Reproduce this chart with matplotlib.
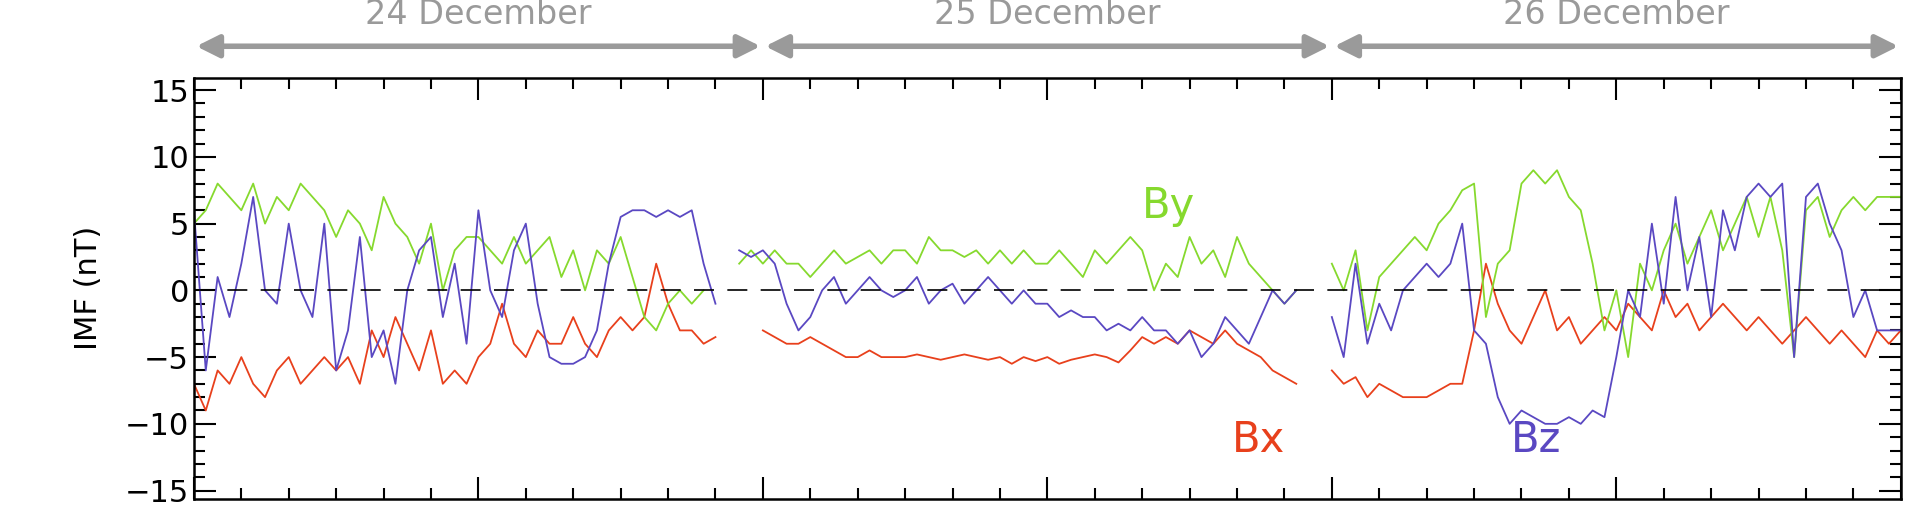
import numpy as np
import matplotlib.pyplot as plt
from matplotlib.ticker import MultipleLocator

nan = np.nan
hours = np.arange(0, 72.5, 0.5)

bx = [-7, -9, -6, -7, -5, -7, -8, -6, -5, -7, -6, -5,
      -6, -5, -7, -3, -5, -2, -4, -6, -3, -7, -6, -7,
      -5, -4, -1, -4, -5, -3, -4, -4, -2, -4, -5, -3,
      -2, -3, -2, 2, -1, -3, -3, -4, -3.5, nan, nan, nan,
      -3, -3.5, -4, -4, -3.5, -4, -4.5, -5, -5, -4.5, -5, -5,
      -5, -4.8, -5, -5.2, -5, -4.8, -5, -5.2, -5, -5.5, -5, -5.3,
      -5, -5.5, -5.2, -5, -4.8, -5, -5.4, -4.5, -3.5, -4, -3.5, -4,
      -3, -3.5, -4, -3, -4, -4.5, -5, -6, -6.5, -7, nan, nan,
      -6, -7, -6.5, -8, -7, -7.5, -8, -8, -8, -7.5, -7, -7,
      -3, 2, -1, -3, -4, -2, 0, -3, -2, -4, -3, -2,
      -3, -1, -2, -3, 0, -2, -1, -3, -2, -1, -2, -3,
      -2, -3, -4, -3, -2, -3, -4, -3, -4, -5, -3, -4,
      -3]

by = [5, 6, 8, 7, 6, 8, 5, 7, 6, 8, 7, 6,
      4, 6, 5, 3, 7, 5, 4, 2, 5, 0, 3, 4,
      4, 3, 2, 4, 2, 3, 4, 1, 3, 0, 3, 2,
      4, 1, -2, -3, -1, 0, -1, 0, nan, nan, 2, 3,
      2, 3, 2, 2, 1, 2, 3, 2, 2.5, 3, 2, 3,
      3, 2, 4, 3, 3, 2.5, 3, 2, 3, 2, 3, 2,
      2, 3, 2, 1, 3, 2, 3, 4, 3, 0, 2, 1,
      4, 2, 3, 1, 4, 2, 1, 0, -1, 0, nan, nan,
      2, 0, 3, -3, 1, 2, 3, 4, 3, 5, 6, 7.5,
      8, -2, 2, 3, 8, 9, 8, 9, 7, 6, 2, -3,
      0, -5, 2, 0, 3, 5, 2, 4, 6, 3, 5, 7,
      4, 7, 3, -5, 6, 7, 4, 6, 7, 6, 7, 7,
      7]

bz = [6, -6, 1, -2, 2, 7, 0, -1, 5, 0, -2, 5,
      -6, -3, 4, -5, -3, -7, 0, 3, 4, -2, 2, -4,
      6, 0, -2, 3, 5, -1, -5, -5.5, -5.5, -5, -3, 2,
      5.5, 6, 6, 5.5, 6, 5.5, 6, 2, -1, nan, 3, 2.5,
      3, 2, -1, -3, -2, 0, 1, -1, 0, 1, 0, -0.5,
      0, 1, -1, 0, 0.5, -1, 0, 1, 0, -1, 0, -1,
      -1, -2, -1.5, -2, -2, -3, -2.5, -3, -2, -3, -3, -4,
      -3, -5, -4, -2, -3, -4, -2, 0, -1, 0, nan, nan,
      -2, -5, 2, -4, -1, -3, 0, 1, 2, 1, 2, 5,
      -3, -4, -8, -10, -9, -9.5, -10, -10, -9.5, -10, -9, -9.5,
      -5, 0, -2, 5, -1, 7, 0, 4, -2, 6, 3, 7,
      8, 7, 8, -5, 7, 8, 5, 3, -2, 0, -3, -3,
      -3]

days = ["24 December", "25 December", "26 December"]

c_bx = "#e8401c"
c_by = "#86d92e"
c_bz = "#5a48c2"
grey = "#9a9a9a"

fig = plt.figure(figsize=(19.2, 5.14), dpi=100)
left, width = 0.101, 0.889
ax = fig.add_axes([left, 0.03, width, 0.818])

ax.plot(hours, bx, color=c_bx, lw=1.3)
ax.plot(hours, by, color=c_by, lw=1.3)
ax.plot(hours, bz, color=c_bz, lw=1.3)
ax.axhline(0, color="black", lw=1.2, dashes=(12, 8))

ax.set_xlim(0, 72)
ax.set_ylim(-15.6, 15.9)
ax.xaxis.set_major_locator(MultipleLocator(12))
ax.xaxis.set_minor_locator(MultipleLocator(2))
ax.yaxis.set_major_locator(MultipleLocator(5))
ax.yaxis.set_minor_locator(MultipleLocator(1))
ax.tick_params(which="both", direction="in", top=True, right=True, width=1.5)
ax.tick_params(which="major", length=16, labelsize=22, labelbottom=False)
ax.tick_params(which="minor", length=8)
for s in ax.spines.values():
    s.set_linewidth(1.8)
ax.set_ylabel("IMF (nT)", fontsize=22, labelpad=16)

ax.text(41.1, 6.3, "By", color=c_by, fontsize=30, ha="center", va="center")
ax.text(44.9, -11.2, "Bx", color=c_bx, fontsize=30, ha="center", va="center")
ax.text(56.6, -11.2, "Bz", color=c_bz, fontsize=30, ha="center", va="center")

# day arrows above the plot
for i, d in enumerate(days):
    x0, x1 = i * 24, (i + 1) * 24
    ax.annotate("", xy=(x0 + 0.1, 0.91), xytext=(x1 - 0.1, 0.91),
                xycoords=("data", "figure fraction"),
                textcoords=("data", "figure fraction"),
                arrowprops=dict(arrowstyle="<|-|>", color=grey, lw=4,
                                mutation_scale=34, shrinkA=0, shrinkB=0))
    fig.text(left + width * (x0 + x1) / 2 / 72, 0.972, d, color=grey,
             fontsize=24, ha="center", va="center")

fig.savefig("out.png")
